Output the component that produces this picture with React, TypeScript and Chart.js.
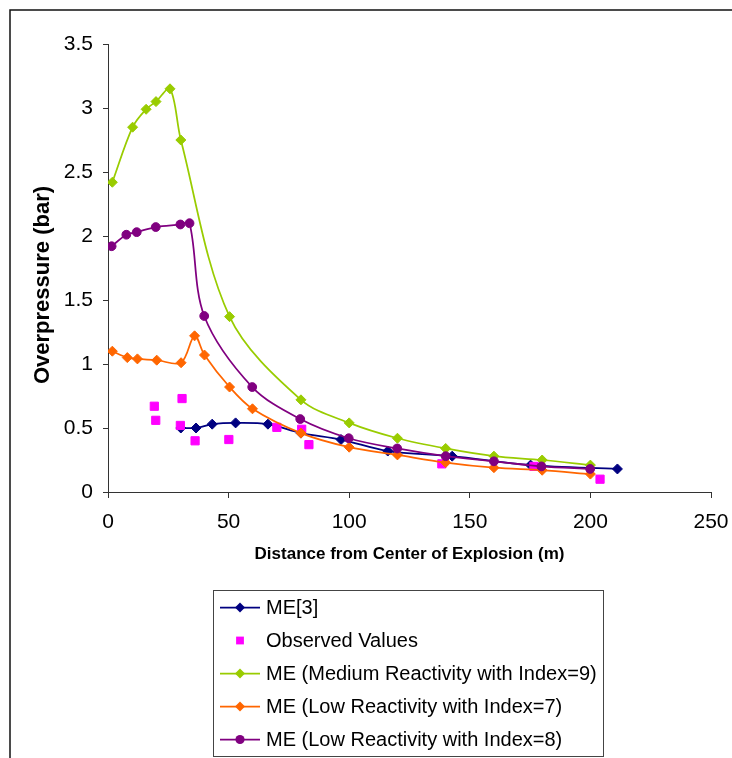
import React, { useEffect, useRef } from "react";
import { Chart, registerables } from "chart.js";

Chart.register(...registerables);

// ---- Data ----
const xTicks = [0, 50, 100, 150, 200, 250];
const yTicks = [0, 0.5, 1, 1.5, 2, 2.5, 3, 3.5];

const me3X = [30.2, 36.5, 43.2, 52.9, 66.3, 80, 96.6, 116, 142.7, 175.2, 211.2];
const me3Y = [0.5, 0.5, 0.53, 0.54, 0.53, 0.46, 0.41, 0.32, 0.28, 0.21, 0.18];

const obsX = [19.2, 19.8, 30.7, 30, 36.1, 50.1, 70, 80.3, 83.3, 138.4, 176.6, 204];
const obsY = [0.67, 0.56, 0.73, 0.52, 0.4, 0.41, 0.505, 0.49, 0.37, 0.22, 0.2, 0.1];

const medX = [1.8, 10.2, 15.8, 19.9, 25.7, 30.2, 50.4, 80, 100, 120, 140, 160, 180, 200];
const medY = [2.42, 2.85, 2.99, 3.05, 3.15, 2.75, 1.37, 0.72, 0.54, 0.42, 0.34, 0.28, 0.25, 0.21];

const low7X = [1.8, 8, 12.2, 20.2, 30.3, 35.9, 40, 50.4, 59.9, 80, 100, 120, 140, 160, 180, 200];
const low7Y = [1.1, 1.05, 1.04, 1.03, 1.01, 1.22, 1.07, 0.82, 0.65, 0.46, 0.35, 0.29, 0.23, 0.19, 0.17, 0.14];

const low8X = [1.5, 7.6, 11.9, 19.8, 30, 33.8, 39.9, 59.8, 79.7, 99.8, 119.9, 140, 160, 179.7, 199.9];
const low8Y = [1.92, 2.01, 2.03, 2.07, 2.09, 2.1, 1.375, 0.82, 0.57, 0.42, 0.34, 0.28, 0.24, 0.2, 0.18];

const seriesLabels = [
  "ME[3]",
  "Observed Values",
  "ME (Medium Reactivity with Index=9)",
  "ME (Low Reactivity with Index=7)",
  "ME (Low Reactivity with Index=8)",
];
const seriesColors = ["#000080", "#FF00FF", "#99CC00", "#FF6600", "#800080"];

const xTitle = "Distance from Center of Explosion (m)";
const yTitle = "Overpressure (bar)";

const FONT = "'Liberation Sans', Arial, sans-serif";

const toPts = (xs: number[], ys: number[]) => xs.map((x, i) => ({ x, y: ys[i] }));

function drawMarker(ctx: CanvasRenderingContext2D, style: string, x: number, y: number, r: number) {
  ctx.beginPath();
  if (style === "rectRot") {
    ctx.moveTo(x - r, y);
    ctx.lineTo(x, y - r);
    ctx.lineTo(x + r, y);
    ctx.lineTo(x, y + r);
    ctx.closePath();
  } else if (style === "circle") {
    ctx.arc(x, y, r, 0, Math.PI * 2);
  } else {
    ctx.rect(x - r, y - r, 2 * r, 2 * r);
  }
  ctx.fill();
}

const framePlugin = {
  id: "frameAndLegend",
  afterDraw(chart: any) {
    const ctx: CanvasRenderingContext2D = chart.ctx;
    ctx.save();
    // outer frame
    ctx.strokeStyle = "#111";
    ctx.lineWidth = 1.5;
    ctx.beginPath();
    ctx.moveTo(10, 800);
    ctx.lineTo(10, 10);
    ctx.lineTo(800, 10);
    ctx.stroke();

    // y-axis title
    const area = chart.chartArea;
    ctx.save();
    ctx.translate(42.5, (area.top + area.bottom) / 2 + 17);
    ctx.rotate(-Math.PI / 2);
    ctx.font = `bold 22px ${FONT}`;
    ctx.fillStyle = "#000";
    ctx.textAlign = "center";
    ctx.textBaseline = "middle";
    ctx.fillText(yTitle, 0, 0);
    ctx.restore();

    // legend box
    ctx.strokeStyle = "#444";
    ctx.lineWidth = 1;
    ctx.strokeRect(213.5, 590.5, 390, 166);

    const ds = chart.data.datasets;
    ctx.font = `20px ${FONT}`;
    ctx.textBaseline = "middle";
    ctx.textAlign = "left";
    for (let i = 0; i < ds.length; i++) {
      const d = ds[i];
      const y = 607.5 + i * 33;
      const color = d.borderColor as string;
      if (d.showLine !== false) {
        ctx.strokeStyle = color;
        ctx.lineWidth = 1.75;
        ctx.beginPath();
        ctx.moveTo(220, y);
        ctx.lineTo(260, y);
        ctx.stroke();
      }
      ctx.fillStyle = color;
      const style = d.pointStyle as string;
      drawMarker(ctx, style, 240, y, style === "rect" ? 3.9 : style === "circle" ? 4.6 : 5);
      ctx.fillStyle = "#000";
      ctx.fillText(d.label, 266, y + 1);
    }
    ctx.restore();
  },
};

export default function App() {
  const ref = useRef<HTMLCanvasElement | null>(null);

  useEffect(() => {
    if (!ref.current) return;
    const mk = (i: number, xs: number[], ys: number[], style: string, r: number, showLine = true) => ({
      label: seriesLabels[i],
      data: toPts(xs, ys),
      borderColor: seriesColors[i],
      backgroundColor: seriesColors[i],
      pointBackgroundColor: seriesColors[i],
      pointBorderColor: seriesColors[i],
      pointBorderWidth: 1,
      pointStyle: style,
      pointRadius: r,
      borderWidth: 1.75,
      tension: 0.33,
      showLine,
      order: 5 - i,
    });

    const chart = new Chart(ref.current, {
      type: "line",
      data: {
        datasets: [
          mk(0, me3X, me3Y, "rectRot", 5),
          mk(1, obsX, obsY, "rect", 5.8, false),
          mk(2, medX, medY, "rectRot", 5),
          mk(3, low7X, low7Y, "rectRot", 5),
          mk(4, low8X, low8Y, "circle", 4.4),
        ] as any,
      },
      options: {
        animation: false,
        responsive: false,
        devicePixelRatio: 1,
        layout: { padding: { left: 10, right: 21, top: 44, bottom: 186 } },
        plugins: { legend: { display: false }, tooltip: { enabled: false } },
        scales: {
          x: {
            type: "linear",
            min: xTicks[0],
            max: xTicks[xTicks.length - 1],
            afterBuildTicks: (s: any) => {
              s.ticks = xTicks.map((v) => ({ value: v }));
            },
            afterFit: (s: any) => {
              s.height = 80;
              s.paddingRight = 0;
              s.paddingLeft = 0;
            },
            grid: { drawOnChartArea: false, drawTicks: true, tickLength: 6, color: "#333" },
            border: { display: true, color: "#333", width: 1 },
            ticks: {
              color: "#000",
              font: { family: FONT, size: 21 },
              padding: 12,
              maxRotation: 0,
              callback: (v: any) => String(v),
            },
            title: {
              display: true,
              text: xTitle,
              color: "#000",
              font: { family: FONT, size: 17, weight: "bold" },
              padding: { top: 0, bottom: 7 },
            },
          },
          y: {
            type: "linear",
            min: yTicks[0],
            max: yTicks[yTicks.length - 1],
            afterBuildTicks: (s: any) => {
              s.ticks = yTicks.map((v) => ({ value: v }));
            },
            afterFit: (s: any) => {
              s.width = 98;
              s.paddingTop = 0;
              s.paddingBottom = 0;
            },
            grid: { drawOnChartArea: false, drawTicks: true, tickLength: 5, color: "#333" },
            border: { display: true, color: "#333", width: 1 },
            ticks: {
              color: "#000",
              font: { family: FONT, size: 21 },
              padding: 10,
              callback: (v: any) => String(v),
            },
            title: { display: false, text: yTitle },
          },
        },
      },
      plugins: [framePlugin],
    });
    return () => chart.destroy();
  }, []);

  return (
    <div style={{ position: "fixed", left: 0, top: 0, width: 732, height: 758, overflow: "hidden", background: "#fff" }}>
      <canvas ref={ref} width={732} height={758} style={{ display: "block", width: 732, height: 758 }} />
    </div>
  );
}
